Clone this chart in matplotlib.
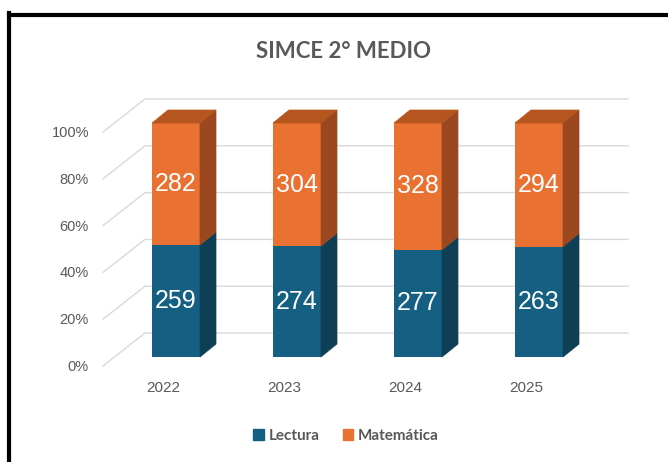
import matplotlib
matplotlib.use("Agg")
import matplotlib.pyplot as plt
import numpy as np
from matplotlib.patches import Polygon, Patch
from matplotlib.lines import Line2D

years = ["2022", "2023", "2024", "2025"]
lectura = [259, 274, 277, 263]
matematica = [282, 304, 328, 294]
pct_ticks = [0, 0.2, 0.4, 0.6, 0.8, 1.0]
pct_labels = ["0%", "20%", "40%", "60%", "80%", "100%"]

blue = "#156082"
blue_side = "#0E3F55"
orange = "#E97132"
orange_side = "#9B4820"
orange_top = "#B5561F"
grey = "#595959"

W, H = 668, 462
fig = plt.figure(figsize=(W / 100, H / 100), dpi=100)

# axes laid on the front plane of the bars (pixel layout of the original)
step = 121.0          # px between categories
x0_px = 176.0         # px of first bar center
y0_px, y1_px = 357.0, 123.0
xmin, xmax = -0.6, 3.6
left = (x0_px + xmin * step) / W
width = (xmax - xmin) * step / W
bottom = (H - y0_px) / H
height = (y0_px - y1_px) / H
ax = fig.add_axes([left, bottom, width, height])
ax.set_xlim(xmin, xmax)
ax.set_ylim(0, 1)
ax.axis("off")

sx = 1 / step                 # data units per px in x
sy = 1 / (y0_px - y1_px)      # data units per px in y

# back wall / floor gridlines
for v, lab in zip(pct_ticks, pct_labels):
    xs = [(103 - x0_px) * sx, (145 - x0_px) * sx, (628 - x0_px) * sx]
    ys = [v - 9 * sy, v + 24 * sy, v + 24 * sy]
    ax.add_line(Line2D(xs, ys, color="#D9D9D9", lw=1.0, zorder=0, clip_on=False))
    ax.text((89 - x0_px) * sx, v - 10 * sy, lab, ha="right", va="center",
            fontsize=10.5, color=grey, family="Liberation Sans", clip_on=False)

x = np.arange(len(years))
tot = np.array(lectura) + np.array(matematica)
p_lec = np.array(lectura) / tot
p_mat = np.array(matematica) / tot
bw = 48 * sx
ddx, ddy = 16 * sx, 13 * sy

ax.bar(x, p_lec, width=bw, color=blue, zorder=2, clip_on=False)
ax.bar(x, p_mat, width=bw, bottom=p_lec, color=orange, zorder=2, clip_on=False)

for i in range(len(years)):
    r = x[i] + bw / 2
    l = x[i] - bw / 2
    for y_a, y_b, c in [(0, p_lec[i], blue_side), (p_lec[i], 1, orange_side)]:
        ax.add_patch(Polygon([(r, y_a), (r + ddx, y_a + ddy), (r + ddx, y_b + ddy), (r, y_b)],
                             closed=True, facecolor=c, edgecolor=c, lw=0.5, zorder=2, clip_on=False))
    ax.add_patch(Polygon([(l, 1), (r, 1), (r + ddx, 1 + ddy), (l + ddx, 1 + ddy)],
                         closed=True, facecolor=orange_top, edgecolor=orange_top, lw=0.5,
                         zorder=2, clip_on=False))
    ax.text(x[i], p_lec[i] / 2, str(lectura[i]), ha="center", va="center",
            color="white", fontsize=18, family="Liberation Sans", zorder=3)
    ax.text(x[i], p_lec[i] + p_mat[i] / 2, str(matematica[i]), ha="center", va="center",
            color="white", fontsize=18, family="Liberation Sans", zorder=3)
    ax.text(x[i] - 13 * sx, -31 * sy, years[i], ha="center", va="center",
            color=grey, fontsize=11, family="Liberation Sans", clip_on=False)

fig.text(343 / W, 1 - 52 / H, "SIMCE 2° MEDIO", ha="center", va="center",
         fontsize=16, fontweight="bold", color=grey, family="Lato")

handles = [Patch(color=blue, label="Lectura"), Patch(color=orange, label="Matemática")]
fig.legend(handles=handles, loc="center", bbox_to_anchor=(346 / W, 1 - 436 / H), ncol=2,
           frameon=False, handlelength=0.7, handleheight=0.7, handletextpad=0.3,
           columnspacing=1.5, prop={"family": "Lato", "weight": "bold", "size": 11},
           labelcolor=grey)

# black frame (cropped at right and bottom)
fig.add_artist(Line2D([9 / W, 1.01], [1 - 15 / H, 1 - 15 / H], color="black", lw=3,
                      transform=fig.transFigure))
fig.add_artist(Line2D([9 / W, 9 / W], [1 - 13 / H, -0.01], color="black", lw=3,
                      transform=fig.transFigure))

fig.savefig("out.png", dpi=100)
